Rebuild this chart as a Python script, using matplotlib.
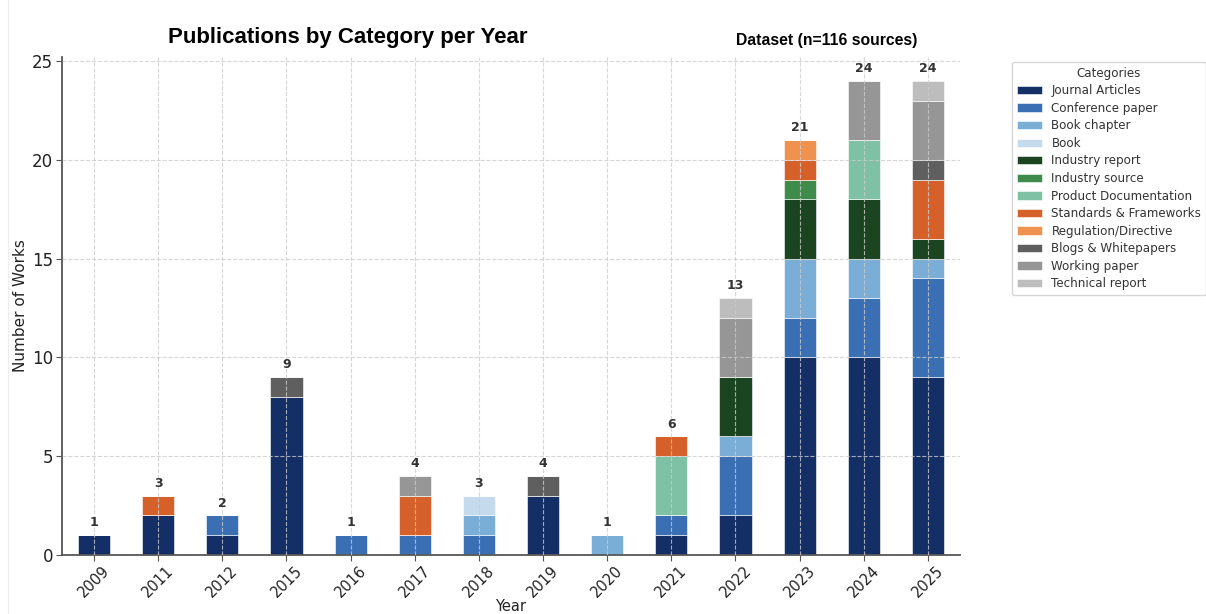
import numpy as np
import matplotlib.pyplot as plt
from matplotlib.lines import Line2D

# Data
years = ["2009", "2011", "2012", "2015", "2016", "2017", "2018",
         "2019", "2020", "2021", "2022", "2023", "2024", "2025"]
categories = ["Journal Articles", "Conference paper", "Book chapter", "Book",
              "Industry report", "Industry source", "Product Documentation",
              "Standards & Frameworks", "Regulation/Directive",
              "Blogs & Whitepapers", "Working paper", "Technical report"]

journal_articles = [1, 2, 1, 8, 0, 0, 0, 3, 0, 1, 2, 10, 10, 9]
conference_paper = [0, 0, 1, 0, 1, 1, 1, 0, 0, 1, 3, 2, 3, 5]
book_chapter =     [0, 0, 0, 0, 0, 0, 1, 0, 1, 0, 1, 3, 2, 1]
book =             [0, 0, 0, 0, 0, 0, 1, 0, 0, 0, 0, 0, 0, 0]
industry_report =  [0, 0, 0, 0, 0, 0, 0, 0, 0, 0, 3, 3, 3, 1]
industry_source =  [0, 0, 0, 0, 0, 0, 0, 0, 0, 0, 0, 1, 0, 0]
product_docs =     [0, 0, 0, 0, 0, 0, 0, 0, 0, 3, 0, 0, 3, 0]
standards =        [0, 1, 0, 0, 0, 2, 0, 0, 0, 1, 0, 1, 0, 3]
regulation =       [0, 0, 0, 0, 0, 0, 0, 0, 0, 0, 0, 1, 0, 0]
blogs =            [0, 0, 0, 1, 0, 0, 0, 1, 0, 0, 0, 0, 0, 1]
working_paper =    [0, 0, 0, 0, 0, 1, 0, 0, 0, 0, 3, 0, 3, 3]
technical_report = [0, 0, 0, 0, 0, 0, 0, 0, 0, 0, 1, 0, 0, 1]

series = [journal_articles, conference_paper, book_chapter, book,
          industry_report, industry_source, product_docs, standards,
          regulation, blogs, working_paper, technical_report]

colors = ["#142e66", "#3a70b3", "#7aaed6", "#c6daee",
          "#1b4520", "#3f8b4c", "#7fc1a4", "#d6602a",
          "#ef924f", "#5f5f5f", "#969696", "#bdbdbd"]

# Create visualization
fig = plt.figure(figsize=(12.06, 6.14), dpi=100)
ax = fig.add_axes([0.0514, 0.0961, 0.7446, 0.8109])

x = np.arange(len(years))
bottom = np.zeros(len(years))
for name, vals, color in zip(categories, series, colors):
    vals = np.array(vals, dtype=float)
    ax.bar(x, vals, width=0.5, bottom=bottom, color=color, label=name,
           edgecolor="white", linewidth=0.4)
    bottom += vals

# Totals on top of bars
for xi, total in zip(x, bottom):
    ax.text(xi, total + 0.3, "{}".format(int(total)), ha="center",
            va="bottom", fontsize=9, fontweight="bold", color="#333333")

ax.set_xlim(-0.5, len(years) - 0.5)
ax.set_ylim(0, 25.2)
ax.set_yticks([0, 5, 10, 15, 20, 25])
ax.set_xticks(x)
ax.set_xticklabels(years, rotation=45, ha="center", fontsize=10.5)
ax.tick_params(axis="y", labelsize=12, pad=2.5)
ax.tick_params(axis="x", pad=2)
ax.tick_params(color="#555555", labelcolor="#222222", length=4)
ax.set_xlabel("Year", fontsize=10.5, color="#222222")
ax.set_ylabel("Number of Works", fontsize=11, color="#222222")
ax.xaxis.set_label_coords(0.5, -0.088)
ax.yaxis.set_label_coords(-0.038, 0.5)

ax.grid(True, linestyle="--", color="#cccccc", linewidth=0.8, alpha=0.8)
ax.set_axisbelow(False)
for side in ["top", "right"]:
    ax.spines[side].set_visible(False)
for side in ["left", "bottom"]:
    ax.spines[side].set_color("#555555")
    ax.spines[side].set_linewidth(1.3)

# Titles
fig.text(348 / 1206, 1 - 38 / 614, "Publications by Category per Year",
         ha="center", va="center", fontsize=16, fontweight="bold",
         family="Liberation Sans", color="black")
fig.text(827 / 1206, 1 - 41 / 614, "Dataset (n=116 sources)",
         ha="center", va="center", fontsize=11.3, fontweight="bold",
         family="Liberation Sans", color="black")

# Legend
leg = ax.legend(title="Categories", loc="upper left",
                bbox_to_anchor=(1012 / 1206, 1 - 62 / 614),
                bbox_transform=fig.transFigure, borderaxespad=0,
                fontsize=8.6, title_fontsize=8.6, frameon=True,
                labelspacing=0.38, handlelength=2.1)
for t in leg.get_texts():
    t.set_color("#333333")
leg.get_title().set_color("#333333")

# Faint left border line
fig.add_artist(Line2D([8 / 1206, 8 / 1206], [0, 1], color="#eeeeee",
                      linewidth=1, transform=fig.transFigure))

plt.savefig("out.png", dpi=100)
